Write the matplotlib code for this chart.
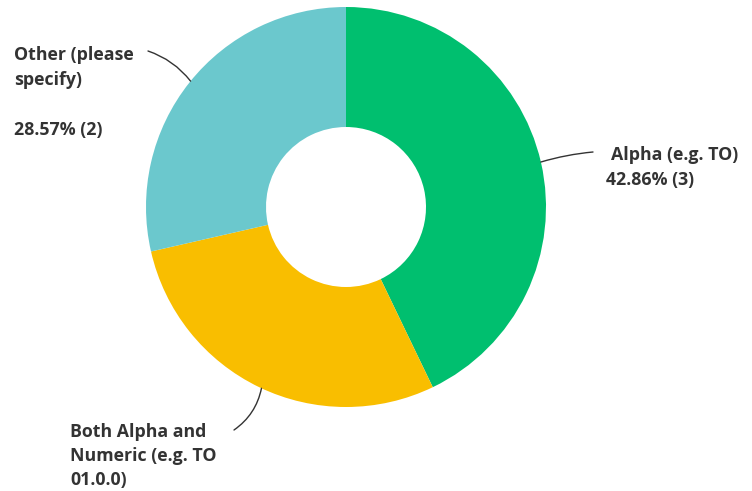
import numpy as np
import matplotlib.pyplot as plt

labels = ['Alpha (e.g. TO)', 'Both Alpha and\nNumeric (e.g. TO\n01.0.0)', 'Other (please\nspecify)']
counts = [3, 2, 2]
colors = ['#00BF6F', '#F9BE00', '#6BC8CD']

W, H = 752, 491
fig = plt.figure(figsize=(W / 100, H / 100), dpi=100)
ax = fig.add_axes([0, 0, 1, 1])

cx, cy, R = 346, H - 207, 200
ax.pie(counts, colors=colors, startangle=90, counterclock=False,
       center=(cx, cy), radius=R, wedgeprops=dict(width=120, linewidth=0),
       frame=True)
ax.set_xlim(0, W)
ax.set_ylim(0, H)
ax.set_aspect('equal')
ax.axis('off')

total = sum(counts)
pct = ['%.2f%% (%d)' % (100 * c / total, c) for c in counts]

font = dict(family=['Open Sans', 'DejaVu Sans'], weight='bold', fontsize=12.8, color='#333333')
lc = '#333333'

def edge(angle_deg):
    a = np.radians(angle_deg)
    return cx + R * np.cos(a), cy + R * np.sin(a)

def lines(x, y0, step, text):
    for i, s in enumerate(text.split('\n')):
        ax.text(x, H - (y0 + i * step), s, va='center', ha='left', **font)

# Alpha
lines(611, 155, 25, labels[0])
lines(606, 180, 25, pct[0])
ax.annotate('', xy=edge(13), xytext=(593, H - 152),
            arrowprops=dict(arrowstyle='-', color=lc, lw=1, shrinkA=0, shrinkB=0,
                            connectionstyle='arc3,rad=0.05'))

# Both
lines(70, 432, 24, labels[1])
ax.annotate('', xy=edge(245), xytext=(234, H - 430),
            arrowprops=dict(arrowstyle='-', color=lc, lw=1, shrinkA=0, shrinkB=0,
                            connectionstyle='arc3,rad=0.2'))

# Other
lines(14, 55, 25, labels[2])
lines(14, 130, 25, pct[2])
ax.annotate('', xy=edge(141), xytext=(148, H - 51),
            arrowprops=dict(arrowstyle='-', color=lc, lw=1, shrinkA=0, shrinkB=0,
                            connectionstyle='arc3,rad=-0.15'))

fig.savefig('out.png', dpi=100, facecolor='white')
